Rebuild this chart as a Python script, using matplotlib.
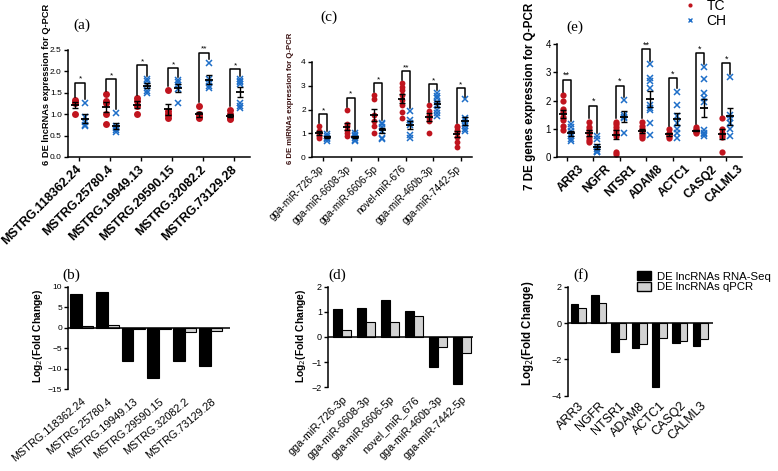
import numpy as np
import matplotlib.pyplot as plt
from matplotlib.lines import Line2D
from matplotlib.patches import Patch
from matplotlib.transforms import ScaledTranslation

plt.rcParams['font.family'] = ['Liberation Sans', 'DejaVu Sans']

W, H = 778, 471
RED = '#c0141e'
BLUE = '#1e6ec8'
GRAY = '#d2d2d2'

# ---- (a) lncRNA Q-PCR
lnc_names = ['MSTRG.118362.24', 'MSTRG.25780.4', 'MSTRG.19949.13',
             'MSTRG.29590.15', 'MSTRG.32082.2', 'MSTRG.73129.28']
lnc_tc = [[1.33, 1.28, 1.25, 1.0],
          [1.47, 1.3, 1.27, 1.0, 0.78],
          [1.38, 1.3, 1.2, 1.0],
          [1.57, 1.08, 1.0, 0.92, 0.98],
          [1.2, 1.0, 0.95, 0.9, 0.93],
          [1.1, 1.0, 0.95, 0.9, 0.88]]
lnc_ch = [[1.27, 0.93, 0.82, 0.75, 0.72],
          [1.03, 0.72, 0.68, 0.62, 0.58],
          [1.82, 1.77, 1.68, 1.55, 1.5],
          [1.8, 1.75, 1.68, 1.58, 1.26],
          [2.2, 1.82, 1.75, 1.66, 1.62],
          [1.82, 1.78, 1.75, 1.7, 1.25, 1.18, 1.15]]
lnc_sig = ['*', '*', '*', '*', '**', '*']
lnc_top = [1.74, 1.82, 2.15, 2.07, 2.44, 2.05]

# ---- (c) miRNA Q-PCR
mir_names = ['gga-miR-726-3p', 'gga-miR-6608-3p', 'gga-miR-6606-5p',
             'novel-miR-676', 'gga-miR-460b-3p', 'gga-miR-7442-5p']
mir_tc = [[1.3, 1.1, 1.0, 0.9, 0.82],
          [1.98, 1.38, 1.3, 1.15, 1.0, 0.9],
          [2.6, 2.45, 1.78, 1.5, 1.3, 1.0],
          [3.1, 2.95, 2.8, 2.6, 2.4, 2.2, 1.9, 1.65],
          [2.2, 1.95, 1.75, 1.65, 1.5, 1.0],
          [1.32, 1.25, 1.15, 1.05, 0.85, 0.65, 0.45]]
mir_ch = [[0.97, 0.9, 0.82, 0.78, 0.7],
          [1.0, 0.95, 0.9, 0.82, 0.72, 0.68],
          [1.45, 1.38, 1.25, 1.1, 0.82, 0.75],
          [1.95, 1.55, 1.45, 1.35, 0.95, 0.8],
          [2.68, 2.58, 2.47, 2.33, 2.19, 2.0, 1.85, 1.72],
          [2.42, 1.65, 1.55, 1.45, 1.3, 1.2, 1.1]]
mir_sig = ['*', '*', '*', '**', '*', '*']
mir_top = [1.8, 2.5, 3.1, 3.6, 3.05, 2.89]

# ---- (e) gene Q-PCR
gene_names = ['ARR3', 'NGFR', 'NTSR1', 'ADAM8', 'ACTC1', 'CASQ2', 'CALML3']
gene_tc = [[2.18, 1.98, 1.7, 1.6, 1.4, 1.3, 1.1, 0.95],
           [1.25, 1.05, 0.95, 0.85, 0.7, 0.6, 0.52],
           [1.25, 1.15, 1.05, 0.95, 0.85, 0.75, 0.15, 0.08],
           [1.25, 1.1, 1.0, 0.9, 0.8, 0.72, 0.65],
           [0.98, 0.85, 0.78, 0.72, 0.68],
           [1.05, 0.98, 0.95, 0.9, 0.87, 0.83],
           [1.38, 1.0, 0.85, 0.78, 0.7, 0.15]]
gene_ch = [[1.15, 1.05, 0.92, 0.82, 0.72, 0.62, 0.55],
           [0.72, 0.62, 0.35, 0.28, 0.22, 0.18, 0.15],
           [2.02, 1.48, 1.42, 1.36, 0.85],
           [3.3, 2.8, 2.7, 2.45, 1.85, 1.75, 1.65, 1.2, 0.78],
           [2.32, 1.85, 1.45, 1.2, 1.0, 0.85, 0.68],
           [3.18, 2.78, 2.25, 2.1, 1.95, 0.95, 0.85, 0.8, 0.75],
           [2.82, 1.5, 1.38, 1.2, 0.98, 0.72]]
gene_sig = ['**', '*', '*', '**', '*', '*', '*']
gene_top = [2.73, 1.8, 2.52, 3.82, 2.79, 3.68, 3.32]

# ---- bottom row: log2 fold change
lnc_seq = [8.2, 8.7, -8.1, -12.3, -8.1, -9.3]
lnc_qpcr = [0.4, 0.7, -0.4, -0.4, -1.0, -0.7]
mir_names2 = ['gga-miR-726-3p', 'gga-miR-6608-3p', 'gga-miR-6606-5p',
              'novel_miR_676', 'gga-miR-460b-3p', 'gga-miR-7442-5p']
mir_seq = [1.1, 1.15, 1.48, 1.02, -1.18, -1.85]
mir_qpcr = [0.28, 0.58, 0.6, 0.85, -0.38, -0.65]
gene_seq = [1.05, 1.55, -1.6, -1.4, -3.5, -1.1, -1.25]
gene_qpcr = [0.85, 1.08, -0.88, -1.15, -0.82, -0.98, -0.9]


fig = plt.figure(figsize=(W / 100, H / 100), dpi=100)


def px_axes(x0, x1, ytop, ybot):
    return fig.add_axes([x0 / W, 1 - ybot / H, (x1 - x0) / W, (ybot - ytop) / H])


def style(ax, fs):
    for s in ['top', 'right']:
        ax.spines[s].set_visible(False)
    for s in ['left', 'bottom']:
        ax.spines[s].set_linewidth(1.1)
    ax.tick_params(direction='out', length=3, width=1, labelsize=fs, pad=1.5)


def rot_labels(ax, names, fs, rot=45, bold=False, dx=0):
    ax.set_xticklabels(names, rotation=rot, ha='right', rotation_mode='anchor',
                       fontsize=fs, fontweight='bold' if bold else 'normal')
    # shift labels sideways (pixels)
    for t in ax.get_xticklabels():
        t.set_transform(t.get_transform() + ScaledTranslation(dx / 100, 0, fig.dpi_scale_trans))


def dot_panel(ax, names, tc, ch, sig, tops, off, ms, hw, gap, sfs):
    for i in range(len(names)):
        xa, xb = i + off[0], i + off[1]
        ax.plot([xa] * len(tc[i]), tc[i], 'o', color=RED, ms=ms, mec='none', zorder=2)
        ax.plot([xb] * len(ch[i]), ch[i], 'x', color=BLUE, ms=ms * 0.9, mew=1.1, zorder=2)
        for x, v in ((xa, tc[i]), (xb, ch[i])):
            m = np.mean(v)
            se = np.std(v, ddof=1) / np.sqrt(len(v))
            ax.errorbar(x, m, yerr=se, color='black', capsize=2, lw=1, capthick=1, zorder=3)
            ax.hlines(m, x - hw, x + hw, color='black', lw=1.3, zorder=3)
        ax.plot([xa, xa, xb, xb],
                [max(tc[i]) + gap, tops[i], tops[i], max(ch[i]) + gap],
                color='black', lw=1.1)
        ax.text((xa + xb) / 2, tops[i], sig[i], ha='center', va='bottom', fontsize=sfs)
    ax.set_xticks(range(len(names)))


def bar_panel(ax, names, seq, qpcr, w):
    x = np.arange(len(names))
    ax.bar(x - w / 2, seq, w, color='black', edgecolor='black', lw=0.8)
    ax.bar(x + w / 2, qpcr, w, color=GRAY, edgecolor='black', lw=0.8)
    ax.axhline(0, color='black', lw=1.1)
    ax.spines['bottom'].set_visible(False)
    ax.set_xticks(x)
    ax.tick_params(axis='x', length=0, pad=5)


# (a)
ax = px_axes(68, 250, 50, 157)
style(ax, 6)
dot_panel(ax, lnc_names, lnc_tc, lnc_ch, lnc_sig, lnc_top, (-0.12, 0.2), 5, 0.13, 0.08, 6)
ax.set_xlim(-0.355, 5.52)
ax.set_ylim(0, 2.5)
ax.set_yticks([0, 0.5, 1.0, 1.5, 2.0, 2.5])
rot_labels(ax, lnc_names, 9, bold=True, dx=-3)
ax.set_ylabel('6 DE lncRNAs expression for Q-PCR', fontsize=6.7, fontweight='bold')
ax.yaxis.set_label_coords(-0.094, 0.68)

# (c)
ax = px_axes(312, 472, 61.7, 157.3)
style(ax, 6)
dot_panel(ax, mir_names, mir_tc, mir_ch, mir_sig, mir_top, (-0.15, 0.15), 4.2, 0.14, 0.12, 6)
ax.set_xlim(-0.41, 5.41)
ax.set_ylim(0, 4)
ax.set_yticks([0, 1, 2, 3, 4])
rot_labels(ax, mir_names, 7.2, dx=-5)
ax.set_ylabel('6 DE miRNAs expression for Q-PCR', fontsize=5.6, fontweight='bold',
              color='#3a1010')
ax.yaxis.set_label_coords(-0.1125, 0.62)

# (e)
ax = px_axes(557, 742, 44.3, 156.7)
style(ax, 7)
dot_panel(ax, gene_names, gene_tc, gene_ch, gene_sig, gene_top, (-0.15, 0.15), 4.5, 0.15, 0.12, 6.5)
ax.set_xlim(-0.36, 6.59)
ax.set_ylim(0, 4)
ax.set_yticks([0, 1, 2, 3, 4])
rot_labels(ax, gene_names, 8.6, bold=True, dx=11)
ax.set_ylabel('7 DE genes expression for Q-PCR', fontsize=8.4, fontweight='bold')
ax.yaxis.set_label_coords(-0.114, 0.54)

# (b)
ax = px_axes(68.3, 230, 286.7, 389.3)
style(ax, 6)
bar_panel(ax, lnc_names, lnc_seq, lnc_qpcr, 0.45)
ax.set_xlim(-0.52, 5.75)
ax.set_ylim(-15, 10)
ax.set_yticks([-15, -10, -5, 0, 5, 10])
rot_labels(ax, lnc_names, 7.8, rot=40)
ax.set_ylabel('Log$_2$(Fold Change)', fontsize=7.4, fontweight='bold')
ax.yaxis.set_label_coords(-0.144, 0.52)

# (d)
ax = px_axes(328.3, 473.3, 286.7, 387.3)
style(ax, 6.5)
bar_panel(ax, mir_names2, mir_seq, mir_qpcr, 0.37)
ax.set_xlim(-0.56, 5.48)
ax.set_ylim(-2, 2)
ax.set_yticks([-2, -1, 0, 1, 2])
rot_labels(ax, mir_names2, 7.8)
ax.set_ylabel('Log$_2$(Fold Change)', fontsize=7.4, fontweight='bold')
ax.yaxis.set_label_coords(-0.14, 0.51)

# (f)
ax = px_axes(568.3, 713.3, 286.7, 395.7)
style(ax, 6.5)
bar_panel(ax, gene_names, gene_seq, gene_qpcr, 0.37)
ax.tick_params(axis='x', pad=3)
ax.set_xlim(-0.49, 6.65)
ax.set_ylim(-4, 2)
ax.set_yticks([-4, -2, 0, 2])
rot_labels(ax, gene_names, 9)
ax.set_ylabel('Log$_2$(Fold Change)', fontsize=8.3, fontweight='bold')
ax.yaxis.set_label_coords(-0.223, 0.575)

# panel letters
for lab, x, y in [('(a)', 82, 25), ('(c)', 328.5, 17), ('(e)', 575, 27),
                  ('(b)', 71, 275), ('(d)', 337.5, 275), ('(f)', 580.5, 275)]:
    fig.text(x / W, 1 - y / H, lab, ha='center', va='center', fontsize=11,
             family='Liberation Serif')

# legends
h_top = [Line2D([], [], marker='o', ls='none', color=RED, ms=3, mec='none'),
         Line2D([], [], marker='x', ls='none', color=BLUE, ms=3, mew=1)]
fig.legend(h_top, ['TC', 'CH'], loc='upper left', bbox_to_anchor=(672 / W, 1 + 11 / H),
           frameon=False, fontsize=10, handlelength=1.2, handletextpad=0.6,
           labelspacing=0.1, borderpad=0.2)

h_bot = [Patch(facecolor='black', edgecolor='black'),
         Patch(facecolor=GRAY, edgecolor='black')]
fig.legend(h_bot, ['DE lncRNAs RNA-Seq', 'DE lncRNAs qPCR'], loc='upper left',
           bbox_to_anchor=(629 / W, 1 - 263 / H), frameon=False, fontsize=8.2,
           handlelength=1.2, handleheight=0.9, handletextpad=0.6,
           labelspacing=0.0, borderpad=0.2)

fig.savefig('out.png', dpi=100)
